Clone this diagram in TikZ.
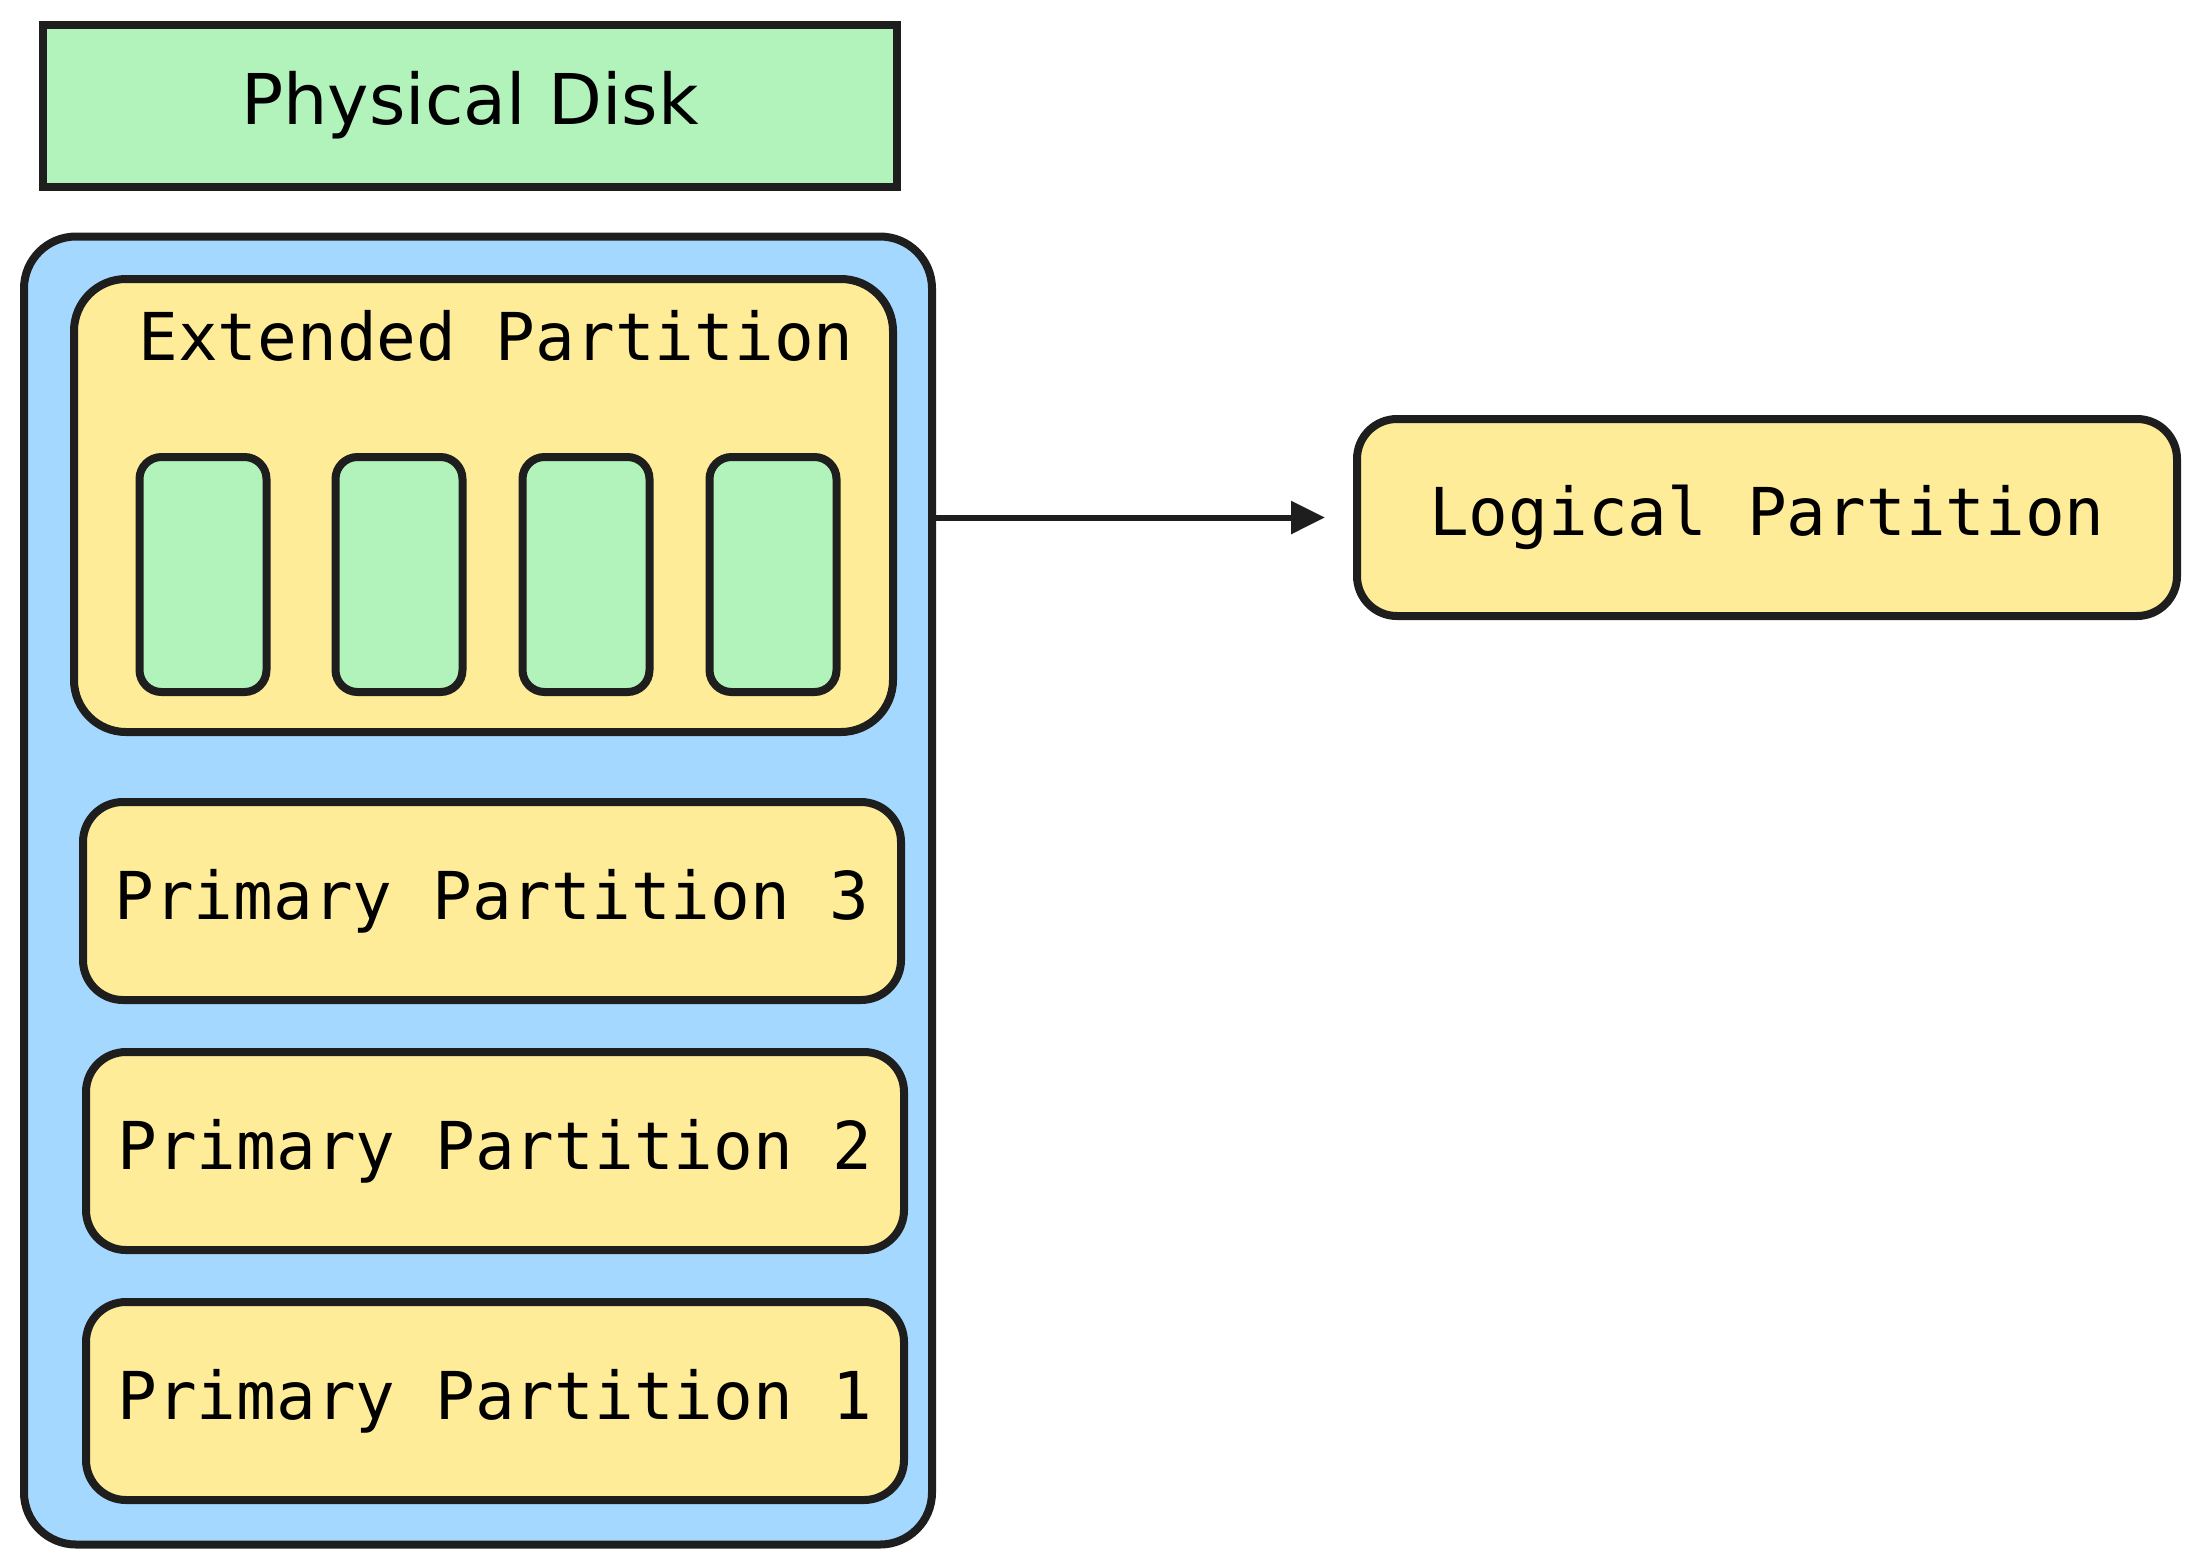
\documentclass[tikz,border=0pt]{standalone}
\usepackage{fontspec}
\setmainfont{DejaVu Sans Mono}
\newfontfamily\handfont{DejaVu Sans}
\usetikzlibrary{arrows.meta,positioning,calc}
\definecolor{diskgreen}{HTML}{B2F2BB}
\definecolor{diskblue}{HTML}{A5D8FF}
\definecolor{partyellow}{HTML}{FFEC99}
\definecolor{inkblack}{HTML}{1E1E1E}

\begin{document}
\begin{tikzpicture}[x=0.5pt,y=-0.5pt,
    outline/.style={draw=inkblack, line width=4pt},
    partbox/.style={outline, fill=partyellow, rounded corners=20pt, minimum width=409pt, minimum height=99pt, font=\fontsize{33}{40}\selectfont},
    slotbox/.style={outline, fill=diskgreen, rounded corners=11pt, minimum width=63.5pt, minimum height=117.5pt}]
    \useasboundingbox (0,0) rectangle (2196,1559);

    % Physical disk
    \node[outline, fill=diskgreen, minimum width=427pt, minimum height=81pt, font=\handfont\fontsize{35}{42}\selectfont] (physdisk) at (470,105.5) {Physical Disk};

    % Disk body
    \node[outline, fill=diskblue, rounded corners=26pt, minimum width=454pt, minimum height=654pt] (disk) at (478,890.5) {};

    % Extended partition
    \node[outline, fill=partyellow, rounded corners=26pt, minimum width=409.5pt, minimum height=226.5pt] (extended) at (483.5,505.5) {};
    \node[font=\fontsize{33}{40}\selectfont] (exttitle) at (496,336) {Extended Partition};

    % Logical drives inside
    \node[slotbox] (slot1) at (203,574.5) {};
    \node[slotbox] (slot2) at (399,574.5) {};
    \node[slotbox] (slot3) at (586,574.5) {};
    \node[slotbox] (slot4) at (773,574.5) {};

    % Primary partitions
    \node[partbox] (primary3) at (492,901) {Primary Partition 3};
    \node[partbox] (primary2) at (495,1151) {Primary Partition 2};
    \node[partbox] (primary1) at (495,1401) {Primary Partition 1};

    % Logical partition
    \node[partbox, minimum width=410pt, minimum height=98.5pt] (logical) at (1767,517.5) {Logical Partition};
    \draw[inkblack, line width=3pt, -{Triangle[length=17pt,width=16pt]}, shorten >=14pt] (disk.east |- logical.west) -- (logical.west);
\end{tikzpicture}
\end{document}
